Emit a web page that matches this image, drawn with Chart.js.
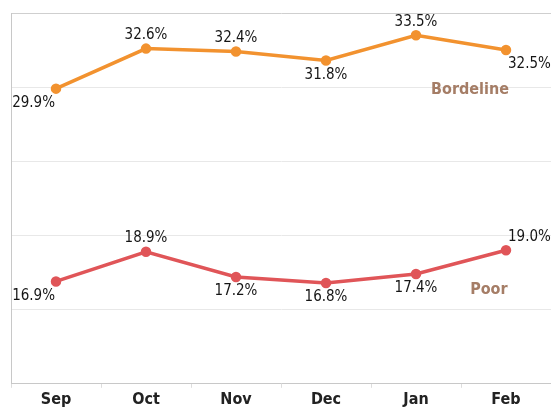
<!DOCTYPE html>
<html>
<head>
<meta charset="utf-8">
<script src="https://cdn.jsdelivr.net/npm/chart.js@4"></script>
<style>
  html, body { margin: 0; padding: 0; background: #fff; overflow: hidden; }
  #wrap { width: 558px; height: 408px; }
</style>
</head>
<body>
<div id="wrap"><canvas id="chart"></canvas></div>
<script>
const months = ["Sep", "Oct", "Nov", "Dec", "Jan", "Feb"];
const borderline = [29.9, 32.6, 32.4, 31.8, 33.5, 32.5];
const poor = [16.9, 18.9, 17.2, 16.8, 17.4, 19.0];
const seriesNames = ["Bordeline", "Poor"];
// label above (true) or below (false) each point
const borderlineAbove = [false, true, true, false, true, false];
const poorAbove = [false, true, false, false, false, true];

const fontFamily = '"DejaVu Sans Condensed", "DejaVu Sans", sans-serif';

const pointLabels = {
    id: "pointLabels",
    afterDatasetsDraw(chart) {
        const ctx = chart.ctx;
        const places = [borderlineAbove, poorAbove];
        ctx.save();
        ctx.font = "15px " + fontFamily;
        ctx.fillStyle = "#151515";
        chart.data.datasets.forEach((ds, d) => {
            const meta = chart.getDatasetMeta(d);
            meta.data.forEach((pt, i) => {
                let x = pt.x;
                if (i === 0) { ctx.textAlign = "right"; x -= 1; }
                else if (i === meta.data.length - 1) { ctx.textAlign = "left"; x += 2; }
                else { ctx.textAlign = "center"; }
                let y;
                if (places[d][i]) { ctx.textBaseline = "bottom"; y = pt.y - 6; }
                else { ctx.textBaseline = "top"; y = pt.y + 7; }
                ctx.fillText(ds.data[i].toFixed(1) + "%", x, y);
            });
        });

        // series names
        const xs = chart.scales.x;
        const ys = chart.scales.y;
        ctx.font = "bold 16px " + fontFamily;
        ctx.fillStyle = "#a57d66";
        ctx.textAlign = "center";
        ctx.textBaseline = "middle";
        ctx.fillText(seriesNames[0], xs.getPixelForValue(4.6), ys.getPixelForValue(29.85));
        ctx.fillText(seriesNames[1], xs.getPixelForValue(4.81), ys.getPixelForValue(16.35));
        ctx.restore();
    }
};

new Chart(document.getElementById("chart"), {
    type: "line",
    data: {
        labels: months,
        datasets: [
            {
                label: seriesNames[0],
                data: borderline,
                borderColor: "#f2922f",
                backgroundColor: "#f2922f",
                borderWidth: 3.5,
                pointRadius: 3.5,
                pointHoverRadius: 3.5,
                tension: 0
            },
            {
                label: seriesNames[1],
                data: poor,
                borderColor: "#e05558",
                backgroundColor: "#e05558",
                borderWidth: 3.5,
                pointRadius: 3.5,
                pointHoverRadius: 3.5,
                tension: 0
            }
        ]
    },
    options: {
        responsive: true,
        maintainAspectRatio: false,
        animation: false,
        layout: { padding: { left: 11, top: 13, right: 0, bottom: -3 } },
        plugins: {
            legend: { display: false },
            tooltip: { enabled: false }
        },
        scales: {
            x: {
                offset: true,
                grid: {
                    offset: true,
                    drawOnChartArea: false,
                    drawTicks: true,
                    tickLength: 4,
                    color: "#dddddd"
                },
                border: { color: "#c8c8c8", width: 1 },
                ticks: {
                    padding: 2,
                    color: "#222",
                    font: { family: fontFamily, size: 16, weight: "bold" }
                }
            },
            y: {
                min: 10,
                max: 35,
                ticks: { display: false, stepSize: 5 },
                grid: {
                    drawTicks: false,
                    color: (c) => c.tick && c.tick.value === 35 ? "#cfcfcf" : "#e8e8e8"
                },
                border: { color: "#c8c8c8", width: 1 }
            }
        }
    },
    plugins: [pointLabels]
});
</script>
</body>
</html>
